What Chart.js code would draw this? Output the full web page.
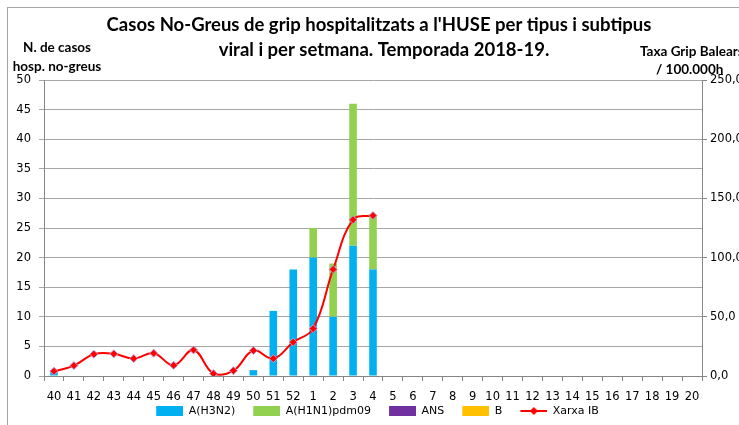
<!DOCTYPE html>
<html>
<head>
<meta charset="utf-8">
<script src="https://cdn.jsdelivr.net/npm/chart.js@4/dist/chart.umd.min.js"></script>
<style>
  html, body { margin: 0; padding: 0; background: #fff; }
  #wrap { position: relative; width: 739px; height: 425px; }
  #frame { position: absolute; left: 7px; top: 7px; width: 740px; height: 430px;
           border-left: 1px solid #a6a6a6; border-top: 1px solid #a6a6a6; }
</style>
</head>
<body>
<div id="wrap">
  <div id="frame"></div>
  <canvas id="grafic" width="739" height="425"></canvas>
</div>
<script>
var setmanes = ['40','41','42','43','44','45','46','47','48','49','50','51','52',
                '1','2','3','4','5','6','7','8','9','10','11','12','13','14','15','16','17','18','19','20'];

var casosH3N2 = [1,0,0,0,0,0,0,0,0,0,1,11,18,20,10,22,18];
var casosH1N1 = [0,0,0,0,0,0,0,0,0,0,0,0,0,5,9,24,9];
var casosANS  = [0,0,0,0,0,0,0,0,0,0,0,0,0,0,0,0,0];
var casosB    = [0,0,0,0,0,0,0,0,0,0,0,0,0,0,0,0,0];
var taxaXarxaIB = [4,8.8,18.4,18.7,14.7,19.3,9,22,2,4.5,21.5,14.7,28.6,40,90,132,135.5];

var ticksCasos = [0,5,10,15,20,25,30,35,40,45,50];
var ticksTaxa = ['0,0','50,0','100,0','150,0','200,0','250,0'];

var colH3N2 = '#00b0f0', colH1N1 = '#92d050', colANS = '#7030a0', colB = '#ffc000', colLinia = '#ff0000';

// icones de la llegenda, amb marge transparent a l'esquerra per separar els elements
var margeIcona = 16;
function iconaCaixa(color) {
    var c = document.createElement('canvas');
    c.width = margeIcona + 27; c.height = 10;
    var g = c.getContext('2d');
    g.fillStyle = color;
    g.fillRect(margeIcona, 0, 27, 10);
    return c;
}
function iconaLinia() {
    var c = document.createElement('canvas');
    c.width = margeIcona + 27; c.height = 10;
    var g = c.getContext('2d');
    var x0 = margeIcona;
    g.strokeStyle = colLinia; g.lineWidth = 2;
    g.beginPath(); g.moveTo(x0, 5); g.lineTo(x0 + 27, 5); g.stroke();
    g.fillStyle = colLinia;
    g.beginPath(); g.moveTo(x0 + 13.5, 1); g.lineTo(x0 + 17.5, 5); g.lineTo(x0 + 13.5, 9); g.lineTo(x0 + 9.5, 5); g.closePath(); g.fill();
    return c;
}

var textos = {
    id: 'textos',
    afterDraw: function (chart) {
        var ctx = chart.ctx;
        ctx.save();
        ctx.fillStyle = '#000';
        ctx.textBaseline = 'middle';
        ctx.textAlign = 'center';
        ctx.font = 'bold 18.5px Lato';
        ctx.fillText("Casos No-Greus de grip hospitalitzats a l'HUSE per tipus i subtipus", 379, 25);
        ctx.fillText('viral i per setmana. Temporada 2018-19.', 384, 50);
        ctx.font = 'bold 13.5px Lato';
        ctx.fillText('N. de casos', 57, 48);
        ctx.fillText('hosp. no-greus', 57, 67);
        ctx.textAlign = 'left';
        ctx.fillText('Taxa Grip Balears', 640, 52);
        ctx.fillText('/ 100.000h', 656, 70);
        ctx.restore();
    }
};

var ctx = document.getElementById('grafic').getContext('2d');

var chart = new Chart(ctx, {
    type: 'bar',
    data: {
        labels: setmanes,
        datasets: [
            {
                type: 'line', label: 'Xarxa IB', data: taxaXarxaIB, yAxisID: 'y1',
                borderColor: colLinia, borderWidth: 2, tension: 0.4,
                pointStyle: 'rectRot', pointRadius: 4, pointBackgroundColor: colLinia,
                pointBorderColor: '#b9a3d6', pointBorderWidth: 1, order: 0
            },
            { label: 'A(H3N2)', data: casosH3N2, backgroundColor: colH3N2, stack: 's', order: 1 },
            { label: 'A(H1N1)pdm09', data: casosH1N1, backgroundColor: colH1N1, stack: 's', order: 1 },
            { label: 'ANS', data: casosANS, backgroundColor: colANS, stack: 's', order: 1 },
            { label: 'B', data: casosB, backgroundColor: colB, stack: 's', order: 1 }
        ]
    },
    options: {
        responsive: false,
        animation: false,
        devicePixelRatio: 1,
        datasets: { bar: { categoryPercentage: 1, barPercentage: 0.38 } },
        layout: { padding: { top: 80, left: 0, right: 0, bottom: -1.5 } },
        plugins: {
            tooltip: { enabled: false },
            title: { display: false },
            legend: {
                position: 'bottom',
                labels: {
                    usePointStyle: true, pointStyleWidth: margeIcona + 27, boxHeight: 10,
                    padding: 2, color: '#000',
                    font: { family: 'DejaVu Sans', size: 11 },
                    generateLabels: function (chart) {
                        var ordre = [1, 2, 3, 4, 0];
                        return ordre.map(function (i) {
                            var ds = chart.data.datasets[i];
                            return {
                                text: ds.label, datasetIndex: i,
                                pointStyle: i === 0 ? iconaLinia() : iconaCaixa(ds.backgroundColor),
                                fillStyle: 'transparent', strokeStyle: 'transparent', lineWidth: 0,
                                fontColor: '#000'
                            };
                        });
                    }
                }
            }
        },
        scales: {
            x: {
                stacked: true,
                offset: true,
                afterFit: function (s) { s.height = 27.5; },
                grid: { offset: true, drawOnChartArea: false, drawTicks: true, tickLength: 5, color: '#868686' },
                border: { color: '#868686' },
                ticks: { color: '#000', font: { family: 'DejaVu Sans', size: 11.5 }, padding: 9, maxRotation: 0, autoSkip: false }
            },
            y: {
                stacked: true,
                min: 0, max: 50,
                afterFit: function (s) { s.width = 44; },
                afterBuildTicks: function (s) { s.ticks = ticksCasos.map(function (v) { return { value: v }; }); },
                grid: { color: '#a6a6a6', tickLength: 5 },
                border: { color: '#868686' },
                ticks: { color: '#000', font: { family: 'DejaVu Sans', size: 11.5 }, padding: 8 }
            },
            y1: {
                position: 'right',
                min: 0, max: 250,
                afterFit: function (s) { s.width = 37; },
                afterBuildTicks: function (s) { s.ticks = ticksTaxa.map(function (t, i) { return { value: i * 50 }; }); },
                grid: { drawOnChartArea: false, tickLength: 5, color: '#868686' },
                border: { color: '#868686' },
                ticks: {
                    color: '#000', font: { family: 'DejaVu Sans', size: 11.5 }, padding: 3,
                    callback: function (v, i) { return ticksTaxa[i]; }
                }
            }
        }
    },
    plugins: [textos]
});
</script>
</body>
</html>
